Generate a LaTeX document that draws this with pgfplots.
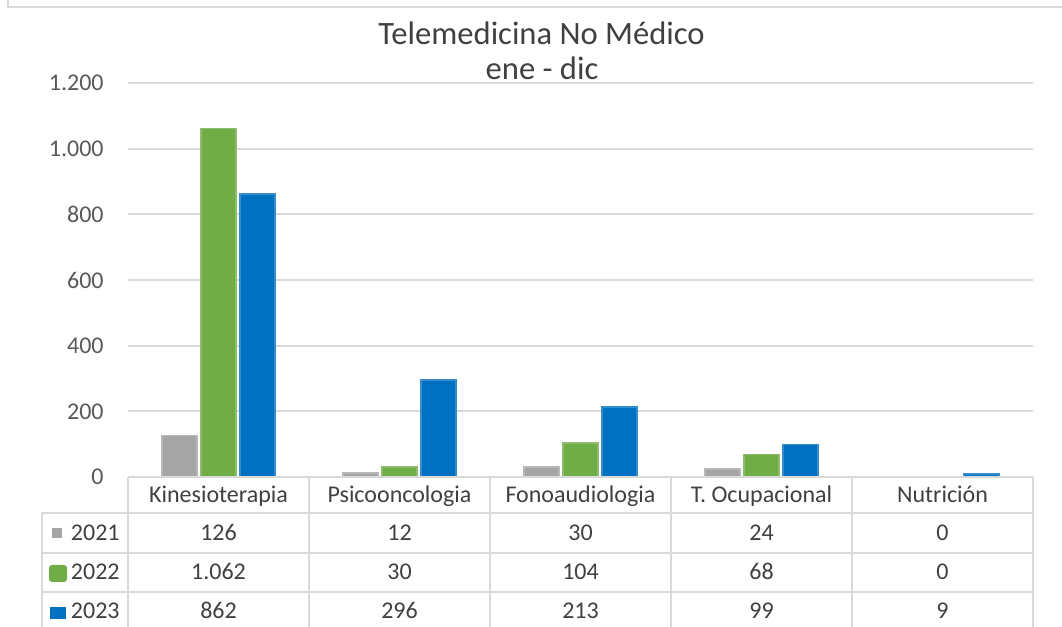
\documentclass[border=0pt]{standalone}
\usepackage{fontspec}
\setmainfont{Carlito}
\usepackage{pgfplots}
\pgfplotsset{compat=1.18}
\definecolor{g21}{HTML}{A5A5A5}
\definecolor{g22}{HTML}{70AD47}
\definecolor{g23}{HTML}{0070C0}
\definecolor{gridc}{HTML}{D9D9D9}
\definecolor{txt}{HTML}{404040}
\definecolor{tickc}{HTML}{595959}
\begin{document}
\begin{tikzpicture}[x=0.5pt,y=0.5pt]
\path[use as bounding box] (0,0) rectangle (1062,627);
\draw[gridc, line width=1pt] (8,627) -- (8,620) -- (1062,620);
\begin{axis}[
  at={(64pt,75pt)}, anchor=south west,
  width=452.5pt, height=197pt, scale only axis,
  xmin=-0.5, xmax=4.5, ymin=0, ymax=1200,
  ytick={0,200,...,1200},
  xtick=\empty,
  ymajorgrids, grid style={gridc, line width=1pt},
  axis line style={draw=none},
  major tick length=0pt,
  ybar=2pt, bar width=17.5pt,
  yticklabel style={font=\fontsize{12}{14}\selectfont, text=tickc, inner sep=0pt, xshift=-12pt},
  /pgf/number format/.cd, 1000 sep={.}, assume math mode=true,
  /pgfplots/clip=false,
]
\addplot[fill=g21, draw=g21!80!white, line width=0.8pt] coordinates {(0,126) (1,12) (2,30) (3,24)};
\addplot[fill=g22, draw=g22!80!white, line width=0.8pt] coordinates {(0,1062) (1,30) (2,104) (3,68)};
\addplot[fill=g23, draw=g23!80!white, line width=0.8pt] coordinates {(0,862) (1,296) (2,213) (3,99) (4,9)};
\end{axis}
% title
\node[anchor=base, text=txt, font=\fontsize{16.3}{18}\selectfont] at (541.5,582) {Telemedicina No Médico};
\node[anchor=base, text=txt, font=\fontsize{16.3}{18}\selectfont] at (542,547) {ene - dic};
% data table
\begin{scope}[gridc, line width=1pt]
\draw (128,150) -- (1033,150);
\draw (42,114) -- (1033,114);
\draw (42,74) -- (1033,74);
\draw (42,35) -- (1033,35);
\draw (42,114) -- (42,0);
\foreach \xx in {128,309,490,671,852,1033} {\draw (\xx,150) -- (\xx,0);}
\end{scope}
\begin{scope}[every node/.style={anchor=base, text=txt, font=\fontsize{12}{14}\selectfont, inner sep=0pt}]
\foreach \cx/\nm/\va/\vb/\vc in {218.5/Kinesioterapia/126/1.062/862, 399.5/Psicooncologia/12/30/296, 580.5/Fonoaudiologia/30/104/213, 761.5/T. Ocupacional/24/68/99, 942.5/Nutrición/0/0/9} {
  \node at (\cx,124) {\nm};
  \node at (\cx,86) {\va};
  \node at (\cx,47) {\vb};
  \node at (\cx,8) {\vc};
}
\node[anchor=base east] at (120,86) {2021};
\node[anchor=base east] at (120,47) {2022};
\node[anchor=base east] at (120,8) {2023};
\end{scope}
\fill[g21] (52,88.5) rectangle (62,98.5);
\fill[g22, rounded corners=1.5pt] (49,45) rectangle (67,62);
\fill[g23] (50,8) rectangle (66,20);
\end{tikzpicture}
\end{document}
